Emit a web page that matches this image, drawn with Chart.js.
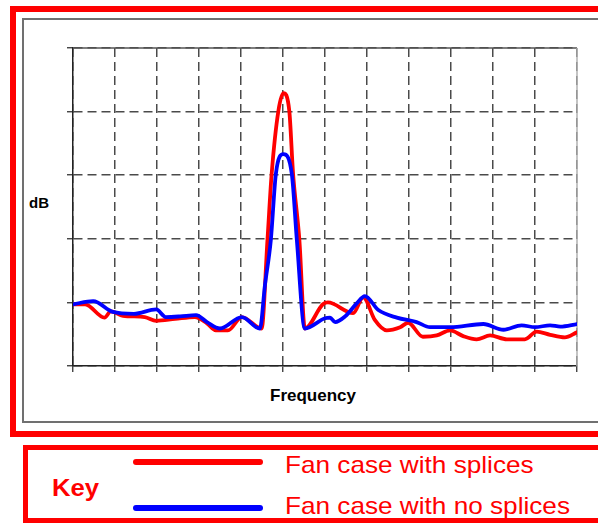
<!DOCTYPE html>
<html>
<head>
<meta charset="utf-8">
<script src="https://cdn.jsdelivr.net/npm/chart.js@4/dist/chart.umd.min.js"></script>
<style>
  html, body { margin: 0; padding: 0; background: #fff; }
  body { width: 598px; height: 524px; position: relative; overflow: hidden;
         font-family: "Liberation Sans", Arial, sans-serif; }
  .box { position: absolute; box-sizing: border-box; }
  #outer { left: 10px; top: 6px; width: 620px; height: 431px; border: 6px solid #ff0000; }
  #inner { left: 22px; top: 18px; width: 600px; height: 405px; border: 2px solid #707070; }
  #keybox { left: 23px; top: 445px; width: 600px; height: 78px; border: 5px solid #ff0000; }
  .lbl { position: absolute; line-height: 1; white-space: nowrap; }
  #ylab { left: 29px; top: 195px; font-size: 15px; font-weight: bold; color: #000; }
  #xlab { left: 270px; top: 387px; font-size: 17px; font-weight: bold; color: #000; }
  #keyword { left: 52px; top: 476px; font-size: 24px; font-weight: bold; color: #ff0000;
             transform: scaleX(1.07); transform-origin: left center; }
  .keytxt { left: 285px; font-size: 24px; color: #ff0000;
            transform: scaleX(1.09); transform-origin: left center; }
  .swatch { position: absolute; left: 133px; width: 130px; height: 6px; border-radius: 3px; }
  canvas { position: absolute; left: 0; top: 0; }
</style>
</head>
<body>
<div class="box" id="outer"></div>
<div class="box" id="inner"></div>
<div class="box" id="keybox"></div>

<div class="lbl" id="ylab">dB</div>
<div class="lbl" id="xlab">Frequency</div>

<div class="lbl" id="keyword">Key</div>
<div class="swatch" style="top:459px;background:#ff0000;"></div>
<div class="swatch" style="top:505px;background:#0000ff;"></div>
<div class="lbl keytxt" style="top:453px;">Fan case with splices</div>
<div class="lbl keytxt" style="top:494px;">Fan case with no splices</div>

<canvas id="c" width="598" height="524"></canvas>

<script>
// Axis extents (12 frequency divisions, 5 dB divisions)
const freqRange = [0, 12];
const dbRange = [0, 5];

// Fan case with splices
const freqRed = [0, 0.29, 0.75, 0.9, 1.19, 1.71, 1.98, 2.43, 2.9, 3.19,
                 3.4, 3.69, 4.02, 4.49, 4.63, 4.73, 4.89, 5.01, 5.15, 5.24,
                 5.39, 5.52, 5.95, 6.07, 6.67, 6.91, 7.19, 7.47, 7.79, 7.98,
                 8.33, 8.66, 8.98, 9.29, 9.61, 9.93, 10.33, 10.76, 11.04, 11.36,
                 11.71, 12.0];
const dbRed = [0.97, 0.97, 0.76, 0.86, 0.79, 0.77, 0.71, 0.74, 0.77, 0.67,
               0.56, 0.56, 0.77, 0.59, 1.98, 3.02, 4.01, 4.29, 4.01, 3.02,
               1.98, 0.59, 0.97, 1.0, 0.83, 1.08, 0.72, 0.56, 0.61, 0.68,
               0.46, 0.48, 0.56, 0.47, 0.42, 0.48, 0.42, 0.42, 0.54, 0.49,
               0.45, 0.53];

// Fan case with no splices
const freqBlue = [0, 0.48, 0.95, 1.45, 1.98, 2.21, 2.55, 2.93, 3.19, 3.5,
                  4.02, 4.45, 4.57, 4.71, 4.83, 5.01, 5.21, 5.33, 5.52, 6.0,
                  6.12, 6.24, 6.48, 6.75, 6.95, 7.27, 7.71, 8.18, 8.5, 8.98,
                  9.77, 10.25, 10.68, 11.0, 11.36, 11.6, 12.0];
const dbBlue = [0.97, 1.02, 0.85, 0.82, 0.89, 0.77, 0.78, 0.80, 0.69, 0.59,
                0.77, 0.59, 1.27, 1.98, 3.02, 3.33, 3.02, 1.98, 0.59, 0.75,
                0.76, 0.69, 0.78, 0.98, 1.10, 0.88, 0.76, 0.69, 0.61, 0.61,
                0.66, 0.57, 0.64, 0.61, 0.64, 0.62, 0.66];

const toPoints = (xs, ys) => xs.map((x, i) => ({ x, y: ys[i] }));

// Solid top and right edges of the plot area
const plotFrame = {
  id: 'plotFrame',
  beforeDatasetsDraw(chart) {
    const { ctx, chartArea: a } = chart;
    ctx.save();
    ctx.lineWidth = 1.5;
    ctx.strokeStyle = '#555';
    ctx.beginPath();
    ctx.moveTo(a.left, a.top);
    ctx.lineTo(a.right, a.top);
    ctx.stroke();
    ctx.strokeStyle = '#b0b0b0';
    ctx.beginPath();
    ctx.moveTo(a.right, a.top);
    ctx.lineTo(a.right, a.bottom);
    ctx.stroke();
    ctx.restore();
  }
};

const gridStyle = {
  color: '#4a4a4a',
  lineWidth: 1.5,
  tickLength: 6,
  tickColor: '#333',
  tickWidth: 1.3
};
const borderStyle = { display: true, color: '#222', width: 1.5, dash: [9, 5] };

new Chart(document.getElementById('c'), {
  type: 'line',
  data: {
    datasets: [
      {
        label: 'Fan case with no splices',
        data: toPoints(freqBlue, dbBlue),
        borderColor: '#0000ff',
        borderWidth: 3.8,
        cubicInterpolationMode: 'monotone',
        order: 0
      },
      {
        label: 'Fan case with splices',
        data: toPoints(freqRed, dbRed),
        borderColor: '#ff0000',
        borderWidth: 3.8,
        cubicInterpolationMode: 'monotone',
        order: 1
      }
    ]
  },
  options: {
    responsive: false,
    animation: false,
    devicePixelRatio: 1,
    layout: { padding: { top: 48, right: 21, left: 0, bottom: 0 } },
    elements: { point: { radius: 0 }, line: { borderCapStyle: 'round', borderJoinStyle: 'round' } },
    plugins: { legend: { display: false }, tooltip: { enabled: false } },
    scales: {
      x: {
        type: 'linear',
        min: freqRange[0], max: freqRange[1],
        ticks: { display: false, stepSize: 1 },
        grid: gridStyle,
        border: borderStyle,
        afterFit: s => { s.height = 158; }
      },
      y: {
        type: 'linear',
        min: dbRange[0], max: dbRange[1],
        ticks: { display: false, stepSize: 1 },
        grid: gridStyle,
        border: borderStyle,
        afterFit: s => { s.width = 73; }
      }
    }
  },
  plugins: [plotFrame]
});
</script>
</body>
</html>
